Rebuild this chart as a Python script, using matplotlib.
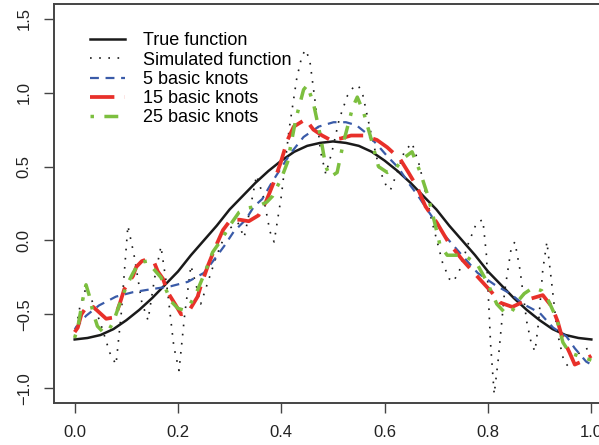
import numpy as np
import matplotlib as mpl
from matplotlib import pyplot as plt

plt.rcParams['font.family'] = ['Liberation Sans', 'DejaVu Sans']
plt.rcParams['font.size'] = 12

# true function
x_true = [0.000, 0.025, 0.050, 0.075, 0.100, 0.125, 0.150, 0.175, 0.200, 0.225,
          0.250, 0.275, 0.300, 0.325, 0.350, 0.375, 0.400, 0.425, 0.450, 0.475,
          0.500, 0.525, 0.550, 0.575, 0.600, 0.625, 0.650, 0.675, 0.700, 0.725,
          0.750, 0.775, 0.800, 0.825, 0.850, 0.875, 0.900, 0.925, 0.950, 0.975, 1.000]
y_true = [-0.67, -0.66, -0.64, -0.60, -0.54, -0.47, -0.39, -0.30, -0.21, -0.10,
          0.00, 0.10, 0.21, 0.30, 0.39, 0.47, 0.54, 0.60, 0.64, 0.66,
          0.67, 0.66, 0.64, 0.60, 0.54, 0.47, 0.39, 0.30, 0.21, 0.10,
          0.00, -0.10, -0.21, -0.30, -0.39, -0.47, -0.54, -0.60, -0.64, -0.66, -0.67]

# simulated (noisy) function
x_sim = [0.000, 0.010, 0.022, 0.035, 0.050, 0.068, 0.080, 0.090, 0.103, 0.115,
         0.130, 0.142, 0.155, 0.167, 0.180, 0.192, 0.202, 0.213, 0.225, 0.235,
         0.244, 0.258, 0.275, 0.295, 0.316, 0.328, 0.340, 0.352, 0.365, 0.378,
         0.386, 0.400, 0.415, 0.430, 0.440, 0.447, 0.455, 0.465, 0.476, 0.486,
         0.498, 0.512, 0.528, 0.540, 0.549, 0.558, 0.572, 0.590, 0.603, 0.611,
         0.622, 0.638, 0.653, 0.668, 0.690, 0.712, 0.725, 0.733, 0.745, 0.762,
         0.778, 0.790, 0.797, 0.805, 0.812, 0.820, 0.832, 0.845, 0.852, 0.862,
         0.875, 0.884, 0.891, 0.898, 0.906, 0.914, 0.922, 0.934, 0.947, 0.955,
         0.965, 0.980, 1.000]
y_sim = [-0.65, -0.45, -0.32, -0.42, -0.56, -0.76, -0.84, -0.50, 0.10, -0.10,
         -0.42, -0.54, -0.25, -0.04, -0.35, -0.72, -0.88, -0.50, -0.17, -0.30,
         -0.43, -0.28, -0.10, 0.07, 0.12, 0.02, 0.22, 0.44, 0.30, 0.06,
         -0.01, 0.30, 0.75, 1.10, 1.25, 1.29, 1.22, 0.95, 0.60, 0.45,
         0.60, 0.82, 0.98, 1.04, 1.05, 0.98, 0.75, 0.48, 0.37, 0.34,
         0.44, 0.60, 0.66, 0.50, 0.15, -0.15, -0.26, -0.28, -0.20, -0.02,
         0.12, 0.14, -0.10, -0.70, -1.04, -0.80, -0.35, -0.05, -0.01, -0.20,
         -0.55, -0.70, -0.75, -0.55, -0.20, -0.01, -0.25, -0.62, -0.82, -0.85,
         -0.80, -0.75, -0.72]

# spline fit, 5 knots
x_k5 = [0.000, 0.022, 0.047, 0.080, 0.113, 0.148, 0.186, 0.219, 0.250, 0.270,
        0.289, 0.308, 0.331, 0.347, 0.363, 0.383, 0.418, 0.443, 0.472, 0.501,
        0.525, 0.545, 0.563, 0.585, 0.605, 0.627, 0.646, 0.665, 0.684, 0.717,
        0.742, 0.780, 0.813, 0.843, 0.868, 0.900, 0.926, 0.952, 0.968, 0.990, 1.000]
y_k5 = [-0.60, -0.51, -0.44, -0.38, -0.35, -0.33, -0.31, -0.28, -0.22, -0.13,
        -0.04, 0.06, 0.14, 0.23, 0.28, 0.40, 0.59, 0.70, 0.77, 0.80,
        0.80, 0.78, 0.73, 0.65, 0.57, 0.49, 0.39, 0.30, 0.20, 0.03,
        -0.07, -0.22, -0.30, -0.36, -0.43, -0.49, -0.59, -0.65, -0.73, -0.82, -0.84]

# spline fit, 15 knots
x_k15 = [0.000, 0.006, 0.013, 0.025, 0.036, 0.061, 0.078, 0.088, 0.096, 0.113,
         0.119, 0.130, 0.138, 0.154, 0.161, 0.171, 0.180, 0.196, 0.206, 0.219,
         0.238, 0.244, 0.258, 0.273, 0.287, 0.302, 0.320, 0.337, 0.356, 0.370,
         0.385, 0.399, 0.412, 0.424, 0.447, 0.462, 0.479, 0.495, 0.515, 0.535,
         0.559, 0.585, 0.605, 0.630, 0.646, 0.663, 0.679, 0.701, 0.723, 0.750,
         0.781, 0.807, 0.823, 0.847, 0.877, 0.906, 0.924, 0.935, 0.943, 0.958,
         0.968, 0.981, 1.000]
y_k15 = [-0.62, -0.59, -0.50, -0.44, -0.45, -0.53, -0.52, -0.42, -0.33, -0.24,
         -0.18, -0.14, -0.13, -0.15, -0.21, -0.26, -0.35, -0.44, -0.50, -0.49,
         -0.38, -0.31, -0.17, -0.04, 0.07, 0.14, 0.14, 0.13, 0.17, 0.26,
         0.39, 0.53, 0.68, 0.77, 0.82, 0.75, 0.71, 0.68, 0.69, 0.71,
         0.71, 0.68, 0.63, 0.55, 0.46, 0.36, 0.23, 0.12, -0.01, -0.13,
         -0.25, -0.35, -0.42, -0.45, -0.40, -0.37, -0.45, -0.55, -0.65, -0.76,
         -0.84, -0.82, -0.78]

# spline fit, 25 knots
x_k25 = [0.000, 0.007, 0.013, 0.019, 0.022, 0.028, 0.035, 0.044, 0.055, 0.064,
         0.075, 0.086, 0.100, 0.113, 0.125, 0.140, 0.157, 0.167, 0.186, 0.200,
         0.210, 0.222, 0.235, 0.254, 0.267, 0.283, 0.302, 0.318, 0.335, 0.354,
         0.372, 0.383, 0.400, 0.412, 0.428, 0.443, 0.450, 0.462, 0.476, 0.486,
         0.495, 0.508, 0.520, 0.538, 0.547, 0.559, 0.572, 0.588, 0.605, 0.620,
         0.634, 0.653, 0.669, 0.682, 0.692, 0.707, 0.721, 0.742, 0.758, 0.779,
         0.798, 0.817, 0.833, 0.845, 0.858, 0.870, 0.887, 0.904, 0.916, 0.933,
         0.945, 0.958, 0.974, 1.000]
y_k25 = [-0.66, -0.57, -0.45, -0.34, -0.30, -0.37, -0.48, -0.58, -0.62, -0.62,
         -0.55, -0.44, -0.31, -0.22, -0.15, -0.14, -0.21, -0.25, -0.41, -0.46,
         -0.47, -0.44, -0.36, -0.20, -0.08, 0.00, 0.11, 0.19, 0.22, 0.23,
         0.26, 0.30, 0.42, 0.53, 0.82, 1.02, 1.05, 0.93, 0.70, 0.50,
         0.43, 0.46, 0.66, 0.90, 0.97, 0.87, 0.71, 0.50, 0.46, 0.48,
         0.55, 0.60, 0.46, 0.32, 0.19, -0.03, -0.10, -0.10, -0.11, -0.16,
         -0.28, -0.43, -0.49, -0.49, -0.41, -0.36, -0.32, -0.34, -0.40, -0.53,
         -0.69, -0.76, -0.78, -0.81]

labels = ['True function', 'Simulated function', '5 basic knots',
          '15 basic knots', '25 basic knots']

fig = plt.figure(figsize=(5.99, 4.45), dpi=100)
ax = fig.add_axes([54 / 599, 42 / 445, 558 / 599, 399 / 445])

ax.plot(x_true, y_true, color='#1a1a1a', lw=1.8, label=labels[0])
ax.plot(x_sim, y_sim, color='#1a1a1a', lw=1.2, linestyle=(0, (1, 4.5)), label=labels[1])
ax.plot(x_k5, y_k5, color='#3a5ba8', lw=1.6, linestyle=(0, (4, 3)), label=labels[2])
ax.plot(x_k15, y_k15, color='#e8302a', lw=2.7, linestyle=(0, (6.5, 2.8)), label=labels[3])
ax.plot(x_k25, y_k25, color='#7cbf3f', lw=2.5, linestyle=(0, (1, 3, 4, 3)), label=labels[4])

ax.set_xlim(-0.04, 1.04)
ax.set_ylim(-1.1, 1.6)
ax.set_xticks([0.0, 0.2, 0.4, 0.6, 0.8, 1.0])
ax.set_xticklabels(['0.0', '0.2', '0.4', '0.6', '0.8', '1.0'])
ax.set_yticks([-1.0, -0.5, 0.0, 0.5, 1.0, 1.5])
ax.set_yticklabels(['\u22121.0', '\u22120.5', '0.0', '0.5', '1.0', '1.5'],
                   rotation=90, va='center')
ax.tick_params(direction='out', length=7, width=1, color='#444444', pad=9,
               labelcolor='#222222')

for s in ax.spines.values():
    s.set_color('#444444')
    s.set_linewidth(1.4)

# legend rows sit lower and wider spaced than the default
ax.legend(loc='upper left', bbox_to_anchor=(0.052, 0.947), borderaxespad=0,
          frameon=False, handlelength=1.95, handletextpad=0.95,
          labelspacing=0.125, fontsize=13)

plt.savefig('out.png', dpi=100)
